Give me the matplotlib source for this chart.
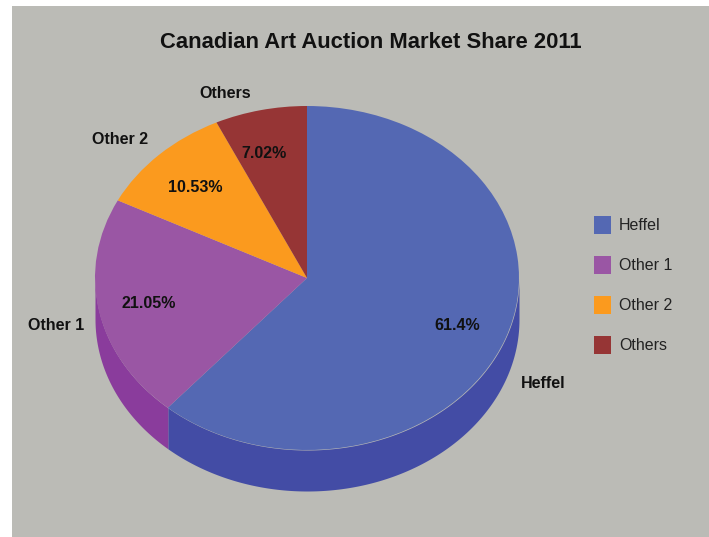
import matplotlib
matplotlib.use('Agg')
import matplotlib.pyplot as plt
import numpy as np
from matplotlib.patches import Patch, Rectangle

plt.rcParams['font.family'] = ['Liberation Sans', 'DejaVu Sans']

categories = ['Heffel', 'Other 1', 'Other 2', 'Others']
shares = [61.4, 21.05, 10.53, 7.02]
share_labels = ['61.4%', '21.05%', '10.53%', '7.02%']
top_colors = ['#5468B3', '#9A56A4', '#FB9A1E', '#963535']
wall_colors = ['#434CA5', '#8A3C9C', '#E08A18', '#7F2C2C']

W, H = 709, 537
fig = plt.figure(figsize=(W / 100, H / 100), dpi=100, facecolor='white')


def px(x, y):
    return x / W, 1 - y / H


# grey panel, white strip left and on top
fig.add_artist(Rectangle((12 / W, 0), 1 - 12 / W, 1 - 6 / H, zorder=-1,
                         transform=fig.transFigure, color='#BBBBB6', lw=0))

# axes box = top ellipse plus the wall under it
left, right, top, face_bottom, bottom = 95, 519, 106, 450, 491
depth = 2 * (bottom - face_bottom) / (face_bottom - top)
ax = fig.add_axes([left / W, 1 - bottom / H, (right - left) / W, (bottom - top) / H])

# side wall, only the part facing the viewer
edges = 90 - np.cumsum([0] + shares) * 3.6
for start, stop, color in zip(edges[:-1], edges[1:], wall_colors):
    lo, hi = max(stop, -180), min(start, 0)
    if lo >= hi:
        continue
    t = np.radians(np.linspace(hi, lo, 200))
    ax.fill_between(np.cos(t), np.sin(t), np.sin(t) - depth, color=color, lw=0)

ax.pie(shares, colors=top_colors, startangle=90, counterclock=False, radius=1,
       wedgeprops={'linewidth': 0})
ax.set_aspect('auto')
ax.set_xlim(-1, 1)
ax.set_ylim(-1 - depth, 1)
ax.axis('off')

fig.text(*px(370.5, 42.5), 'Canadian Art Auction Market Share 2011', ha='center', va='center',
         fontsize=15.8, fontweight='bold', color='#111111')

# outer names and percentages
name_pos = [(543, 384), (56, 325), (120, 139), (225, 93)]
pct_pos = [(457, 325), (149, 304), (195, 187), (264, 153)]
for name, pct, (nx, ny), (qx, qy) in zip(categories, share_labels, name_pos, pct_pos):
    fig.text(*px(nx, ny), name, ha='center', va='center', fontsize=11.5,
             fontweight='bold', color='#111111')
    fig.text(*px(qx, qy), pct, ha='center', va='center', fontsize=11.5,
             fontweight='bold', color='#111111')

handles = [Patch(color=c, lw=0) for c in top_colors]
fig.legend(handles, categories, loc='center left', bbox_to_anchor=px(586, 285),
           frameon=False, fontsize=11.5, handlelength=1.06, handleheight=1.41,
           labelspacing=1.35, handletextpad=0.5, labelcolor='#222222',
           borderpad=0.5, borderaxespad=0)

fig.savefig('out.png', dpi=100, facecolor='white')
